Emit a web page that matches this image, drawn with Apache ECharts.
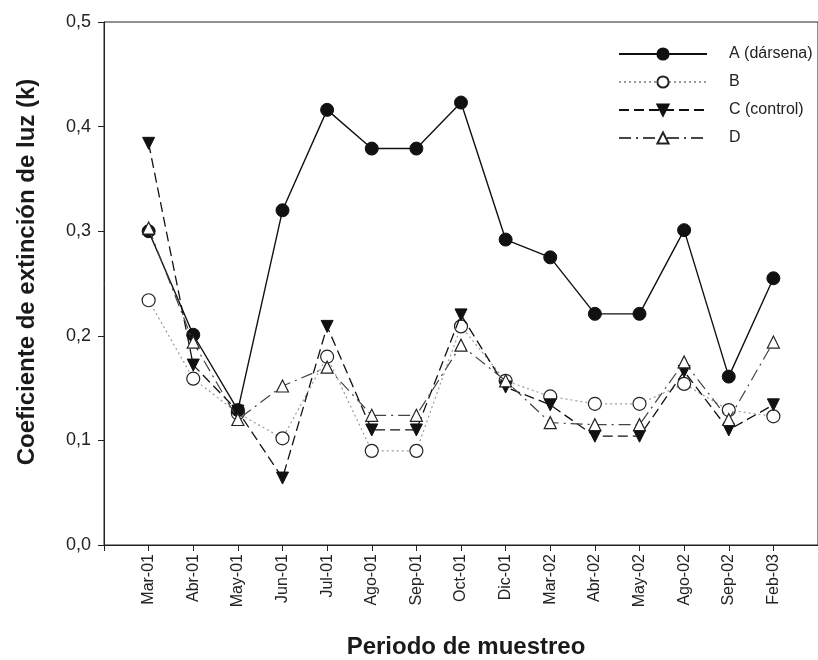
<!DOCTYPE html>
<html>
<head>
<meta charset="utf-8">
<script src="https://cdn.jsdelivr.net/npm/echarts@6/dist/echarts.min.js"></script>
<style>
  html, body { margin: 0; padding: 0; background: #ffffff; }
  #chart { width: 818px; height: 660px; }
</style>
</head>
<body>
<div id="chart"></div>
<script>
// Sampling periods (x axis)
const periods = ['Mar-01', 'Abr-01', 'May-01', 'Jun-01', 'Jul-01', 'Ago-01', 'Sep-01', 'Oct-01',
                 'Dic-01', 'Mar-02', 'Abr-02', 'May-02', 'Ago-02', 'Sep-02', 'Feb-03'];

// Light extinction coefficient (k) per station
const stationA = [0.300, 0.201, 0.129, 0.320, 0.416, 0.379, 0.379, 0.423, 0.292, 0.275, 0.221, 0.221, 0.301, 0.161, 0.255];
const stationB = [0.234, 0.159, 0.126, 0.102, 0.180, 0.090, 0.090, 0.209, 0.157, 0.142, 0.135, 0.135, 0.154, 0.129, 0.123];
const stationC = [0.384, 0.172, 0.128, 0.064, 0.209, 0.110, 0.110, 0.220, 0.151, 0.134, 0.104, 0.104, 0.166, 0.110, 0.134];
const stationD = [0.303, 0.194, 0.120, 0.152, 0.170, 0.124, 0.124, 0.191, 0.157, 0.117, 0.115, 0.115, 0.175, 0.120, 0.194];

// Axis titles
const xTitle = 'Periodo de muestreo';
const yTitle = 'Coeficiente de extinción de luz (k)';

const FONT = '"Liberation Sans", Arial, sans-serif';
const toPoints = arr => arr.map((v, i) => [i, v]);

const chart = echarts.init(document.getElementById('chart'), null, { renderer: 'canvas' });

chart.setOption({
  backgroundColor: '#ffffff',
  animation: false,
  textStyle: { fontFamily: FONT },
  grid: {
    left: 104, top: 22, bottom: 115, right: -10,
    show: true, borderColor: '#222', borderWidth: 1, backgroundColor: 'transparent'
  },
  graphic: [
    {
      type: 'text', x: 27, y: 272, rotation: Math.PI / 2,
      style: {
        text: yTitle, fill: '#1a1a1a', align: 'center', verticalAlign: 'middle',
        font: 'bold 24px "Liberation Sans", Arial, sans-serif'
      }
    },
    {
      type: 'text', x: 466, y: 647,
      style: {
        text: xTitle, fill: '#1a1a1a', align: 'center', verticalAlign: 'middle',
        font: 'bold 24px "Liberation Sans", Arial, sans-serif'
      }
    }
  ],
  legend: {
    orient: 'vertical',
    left: 613, top: 41,
    itemWidth: 88, itemHeight: 14, itemGap: 12,
    textStyle: { fontFamily: FONT, fontSize: 16, color: '#222', padding: [0, 0, 0, 17] },
    data: ['A (dársena)', 'B', 'C (control)', 'D']
  },
  xAxis: {
    type: 'value',
    min: -1, max: 15, interval: 1,
    axisLine: { show: true, onZero: false, lineStyle: { color: '#222', width: 1 } },
    axisTick: { show: true, length: 6, lineStyle: { color: '#222' } },
    splitLine: { show: false },
    axisLabel: {
      rotate: 90, margin: 9,
      fontFamily: FONT, fontSize: 16, color: '#222',
      formatter: v => periods[v] || ''
    }
  },
  yAxis: {
    type: 'value',
    min: 0, max: 0.5, interval: 0.1,
    axisLine: { show: true, onZero: false, lineStyle: { color: '#222', width: 1 } },
    axisTick: { show: true, length: 6, lineStyle: { color: '#222' } },
    splitLine: { show: false },
    axisLabel: {
      margin: 13, fontFamily: FONT, fontSize: 18, color: '#222',
      formatter: v => v.toFixed(1).replace('.', ',')
    }
  },
  series: [
    {
      name: 'A (dársena)', type: 'line', data: toPoints(stationA), z: 5,
      symbol: 'circle', symbolSize: 13,
      itemStyle: { color: '#111', borderColor: '#111', borderWidth: 1 },
      lineStyle: { color: '#111', width: 1.4, type: 'solid' }
    },
    {
      name: 'B', type: 'line', data: toPoints(stationB), z: 3,
      symbol: 'circle', symbolSize: 13,
      itemStyle: { color: '#fff', borderColor: '#222', borderWidth: 1.2 },
      lineStyle: { color: '#9a9a9a', width: 1.2, type: [2, 3] }
    },
    {
      name: 'C (control)', type: 'line', data: toPoints(stationC), z: 4,
      symbol: 'triangle', symbolRotate: 180, symbolSize: 12,
      itemStyle: { color: '#111', borderColor: '#111', borderWidth: 1 },
      lineStyle: { color: '#111', width: 1.3, type: [10, 5] }
    },
    {
      name: 'D', type: 'line', data: toPoints(stationD), z: 6,
      symbol: 'triangle', symbolSize: 12,
      itemStyle: { color: '#fff', borderColor: '#222', borderWidth: 1.2 },
      lineStyle: { color: '#444', width: 1.2, type: [12, 5, 2, 5] }
    }
  ]
});
</script>
</body>
</html>
